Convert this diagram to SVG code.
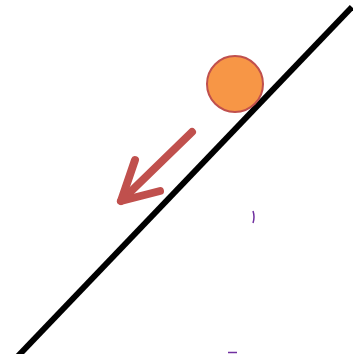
<svg xmlns="http://www.w3.org/2000/svg" width="353" height="354" viewBox="0 0 353 354">
<style>
.slope{stroke:#000;stroke-width:6;fill:none}
.arrow{stroke:#C0504D;stroke-width:8;fill:none;stroke-linecap:round;stroke-linejoin:round}
.mark{stroke:#7030A0;stroke-width:1.5;fill:none}
</style>
<rect width="353" height="354" fill="#fff"/>
<g id="incline"><line class="slope" x1="18" y1="356" x2="352" y2="7"/></g>
<g id="ball"><circle cx="235" cy="84" r="28" fill="#F79646" stroke="#C0504D" stroke-width="2"/></g>
<g id="connectors">
<line class="arrow" x1="192" y1="132" x2="121" y2="201"/>
<polyline class="arrow" points="135,160 121,201 160,191"/>
</g>
<g id="marks">
<path class="mark" d="M253,211 Q255,217 253,223"/>
<line class="mark" x1="228" y1="352.5" x2="237" y2="352.5"/>
</g>
</svg>
